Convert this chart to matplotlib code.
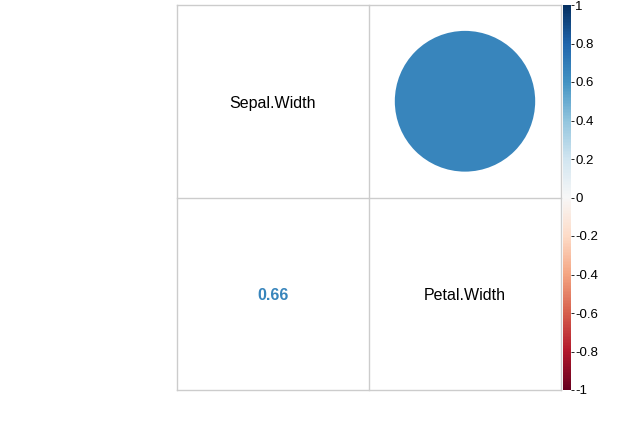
import numpy as np
import matplotlib
matplotlib.use("Agg")
import matplotlib.pyplot as plt
from matplotlib.patches import Circle
from matplotlib.colors import Normalize
from matplotlib.cm import ScalarMappable

plt.rcParams["font.family"] = ["Liberation Sans", "DejaVu Sans"]

variables = ["Sepal.Width", "Petal.Width"]
corr = np.array([[1.0, 0.66],
                 [0.66, 1.0]])
cbar_ticks = [-1, -0.8, -0.6, -0.4, -0.2, 0, 0.2, 0.4, 0.6, 0.8, 1]
cbar_labels = ["-1", "-0.8", "-0.6", "-0.4", "-0.2", "0", "0.2", "0.4", "0.6", "0.8", "1"]

cmap = plt.get_cmap("RdBu")
norm = Normalize(-1, 1)

W, H = 637, 425
fig = plt.figure(figsize=(W / 100, H / 100), dpi=100)
ax = fig.add_axes([177 / W, 1 - 390 / H, 384 / W, 385 / H])
n = len(variables)
ax.set_xlim(0, n)
ax.set_ylim(0, n)
ax.set_aspect("auto")
gridc = "#CCCCCC"
for k in range(n + 1):
    ax.axhline(k, color=gridc, lw=1.0, clip_on=False)
    ax.axvline(k, color=gridc, lw=1.0, clip_on=False)
for s in ax.spines.values():
    s.set_visible(False)
ax.set_xticks([])
ax.set_yticks([])

for i in range(n):
    for j in range(n):
        cx = j + 0.5
        cy = n - i - 0.5
        v = corr[i, j]
        if i == j:
            ax.text(cx, cy - 0.01, variables[i], ha="center", va="center", fontsize=11.5, color="black")
        elif j > i:
            r = 0.9 * np.sqrt(abs(v)) / 2
            ax.add_patch(Circle((cx, cy), r, color=cmap(norm(v)), lw=0))
        else:
            ax.text(cx, cy - 0.01, f"{v:.2f}", ha="center", va="center", fontsize=11.5,
                    fontweight="bold", color=cmap(norm(v)))

cax = fig.add_axes([563 / W, 1 - 390 / H, 8 / W, 385 / H])
sm = ScalarMappable(norm=norm, cmap=cmap)
cb = fig.colorbar(sm, cax=cax, ticks=cbar_ticks)
cb.ax.set_yticklabels(cbar_labels)
cb.outline.set_visible(False)
cb.ax.tick_params(labelsize=9.5, length=2, width=0.6, pad=1)

fig.savefig("out.png", dpi=100, facecolor="white")
